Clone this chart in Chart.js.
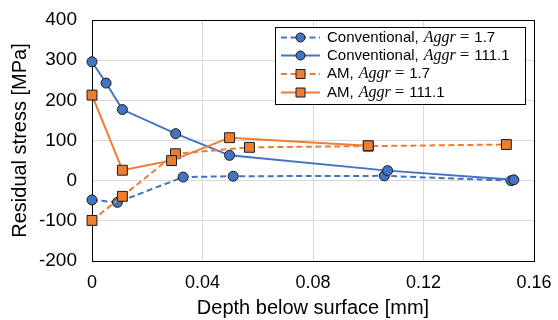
<!DOCTYPE html>
<html>
<head>
<meta charset="utf-8">
<title>Residual stress vs depth</title>
<script src="https://cdn.jsdelivr.net/npm/chart.js@4.4.1/dist/chart.umd.min.js"></script>
<style>
    html, body { margin: 0; padding: 0; background: #ffffff; }
    #wrap { width: 558px; height: 320px; position: relative; }
</style>
</head>
<body>
<div id="wrap"><canvas id="stress-chart"></canvas></div>
<script>
// ================================================
// DATA
// ================================================

const convLowDepth = [0, 0.0092, 0.033, 0.0511, 0.1058, 0.1517];
const convLowStress = [-48, -54, 9, 11, 12, 0];

const convHighDepth = [0, 0.0051, 0.011, 0.0303, 0.0498, 0.107, 0.1527];
const convHighStress = [296, 243, 177, 117, 63, 25, 2];

const amLowDepth = [0, 0.011, 0.0302, 0.057, 0.1, 0.15];
const amLowStress = [-99, -39, 67, 83, 86, 90];

const amHighDepth = [0, 0.011, 0.0288, 0.0498, 0.1];
const amHighStress = [213, 26, 50, 107, 87];

const seriesNames = ['Conventional,', 'Conventional,', 'AM,', 'AM,'];
const seriesAggr = ['1.7', '111.1', '1.7', '111.1'];

const xTicks = [0, 0.04, 0.08, 0.12, 0.16];
const yTicks = [-200, -100, 0, 100, 200, 300, 400];

const BLUE = '#4472c4';
const ORANGE = '#ed7d31';
const EDGE = '#1c1c1c';
const SANS = '"Liberation Sans", Arial, sans-serif';
const SERIF = '"Liberation Serif", "DejaVu Serif", serif';

function toPoints(xs, ys) {
    return xs.map((x, i) => ({ x: x, y: ys[i] }));
}

function makeSeries(xs, ys, color, style, dashed, order) {
    return {
        data: toPoints(xs, ys),
        showLine: true,
        borderColor: color,
        backgroundColor: color,
        borderWidth: 2,
        borderDash: dashed ? [6, 3.5] : [],
        pointStyle: style,
        pointRadius: style === 'rect' ? 7 : 5,
        pointBackgroundColor: color,
        pointBorderColor: EDGE,
        pointBorderWidth: 1,
        clip: false,
        order: order
    };
}

/**
 * BOX ROUND THE PLOT AREA
 */
const frameBox = {
    id: 'frameBox',
    beforeDatasetsDraw(chart) {
        const a = chart.chartArea;
        const ctx = chart.ctx;
        ctx.save();
        ctx.strokeStyle = '#000000';
        ctx.lineWidth = 1;
        ctx.strokeRect(Math.round(a.left) + 0.5, Math.round(a.top) + 0.5,
            Math.round(a.right - a.left), Math.round(a.bottom - a.top));
        ctx.restore();
    }
};

/**
 * LEGEND WITH ITALIC "Aggr"
 */
const mixedLegend = {
    id: 'mixedLegend',
    afterDraw(chart) {
        const ctx = chart.ctx;
        const box = { x: 275.5, y: 27.5, w: 250, h: 77 };
        const rowY = [37.5, 55.5, 74, 92.5];

        ctx.save();
        ctx.fillStyle = '#ffffff';
        ctx.fillRect(box.x, box.y, box.w, box.h);
        ctx.strokeStyle = '#000000';
        ctx.lineWidth = 1;
        ctx.strokeRect(box.x, box.y, box.w, box.h);

        chart.data.datasets.forEach((ds, i) => {
            const y = rowY[i];
            ctx.strokeStyle = ds.borderColor;
            ctx.lineWidth = 2;
            ctx.setLineDash(ds.borderDash);
            ctx.beginPath();
            ctx.moveTo(281, y);
            ctx.lineTo(320, y);
            ctx.stroke();
            ctx.setLineDash([]);

            ctx.fillStyle = ds.backgroundColor;
            ctx.strokeStyle = EDGE;
            ctx.lineWidth = 1;
            ctx.beginPath();
            if (ds.pointStyle === 'rect') {
                ctx.rect(296, y - 4.5, 9, 9);
            } else {
                ctx.arc(300.5, y, 4.5, 0, Math.PI * 2);
            }
            ctx.fill();
            ctx.stroke();

            let x = 327;
            ctx.fillStyle = '#000000';
            ctx.textBaseline = 'middle';
            ctx.font = '15px ' + SANS;
            ctx.fillText(seriesNames[i], x, y);
            x += ctx.measureText(seriesNames[i]).width + 5;
            ctx.font = 'italic 16px ' + SERIF;
            ctx.fillText('Aggr', x, y);
            x += ctx.measureText('Aggr').width + 4;
            ctx.font = '17px ' + SERIF;
            ctx.fillText('=', x, y);
            x += ctx.measureText('=').width + 5;
            ctx.font = '15px ' + SANS;
            ctx.fillText(seriesAggr[i], x, y);
        });
        ctx.restore();
    }
};

/**
 * BUILD CHART
 */
function initChart() {
    const ctx = document.getElementById('stress-chart').getContext('2d');

    new Chart(ctx, {
        type: 'scatter',
        data: {
            datasets: [
                makeSeries(convLowDepth, convLowStress, BLUE, 'circle', true, 4),
                makeSeries(convHighDepth, convHighStress, BLUE, 'circle', false, 3),
                makeSeries(amLowDepth, amLowStress, ORANGE, 'rect', true, 2),
                makeSeries(amHighDepth, amHighStress, ORANGE, 'rect', false, 1)
            ]
        },
        options: {
            responsive: false,
            animation: false,
            devicePixelRatio: 1,
            layout: { padding: { top: 20, right: 24, left: 0, bottom: 0 } },
            plugins: {
                legend: { display: false },
                tooltip: { enabled: false }
            },
            scales: {
                x: {
                    type: 'linear',
                    min: xTicks[0],
                    max: xTicks[xTicks.length - 1],
                    afterBuildTicks: (scale) => { scale.ticks = xTicks.map(v => ({ value: v })); },
                    afterFit: (scale) => {
                        // labels may hang over the edges, the layout padding covers them
                        scale.height = 59;
                        scale.paddingLeft = 0;
                        scale.paddingRight = 0;
                    },
                    border: { display: false },
                    grid: { color: '#d9d9d9', lineWidth: 1, drawTicks: false },
                    ticks: {
                        padding: 11,
                        color: '#000000',
                        font: { family: SANS, size: 18 },
                        callback: (v) => (v === 0 ? '0' : v.toFixed(2))
                    },
                    title: {
                        display: true,
                        text: 'Depth below surface [mm]',
                        color: '#000000',
                        font: { family: SANS, size: 20 },
                        padding: { top: 0, bottom: 0 }
                    }
                },
                y: {
                    min: yTicks[0],
                    max: yTicks[yTicks.length - 1],
                    afterBuildTicks: (scale) => { scale.ticks = yTicks.map(v => ({ value: v })); },
                    afterFit: (scale) => {
                        scale.width = 92;
                        scale.paddingTop = 0;
                        scale.paddingBottom = 0;
                    },
                    border: { display: false },
                    grid: { color: '#d9d9d9', lineWidth: 1, drawTicks: false },
                    ticks: {
                        padding: 15,
                        color: '#000000',
                        font: { family: SANS, size: 19 }
                    },
                    title: {
                        display: true,
                        text: 'Residual stress [MPa]',
                        color: '#000000',
                        font: { family: SANS, size: 20 },
                        padding: { top: 8, bottom: 0 }
                    }
                }
            }
        },
        plugins: [frameBox, mixedLegend]
    });
}

document.getElementById('stress-chart').width = 558;
document.getElementById('stress-chart').height = 320;
initChart();
</script>
</body>
</html>
